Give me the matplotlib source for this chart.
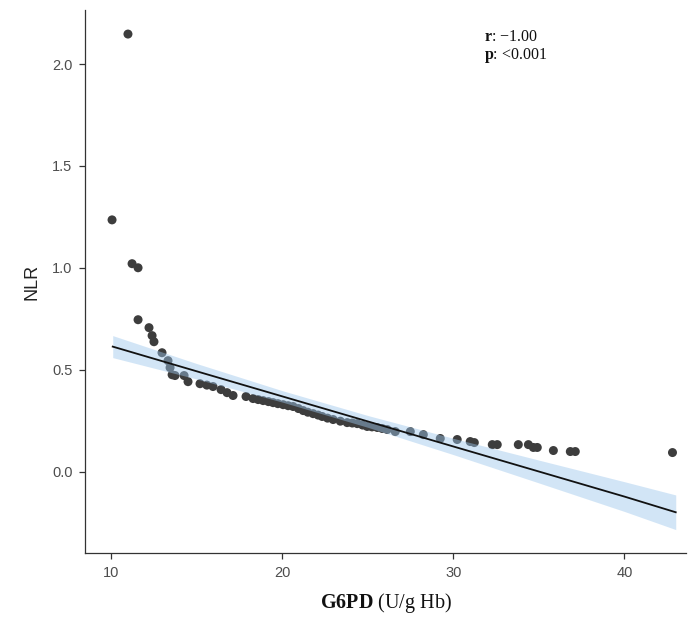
import numpy as np
import matplotlib.pyplot as plt

# puntos (G6PD vs NLR)
g6pd = [10.06, 10.99, 11.23, 11.58, 11.58, 12.22, 12.40, 12.51, 12.98, 13.33,
        13.45, 13.57, 13.74, 14.27, 14.50, 15.20, 15.60, 15.96, 16.43, 16.78,
        17.13, 17.89, 18.30, 18.60, 18.89, 19.20, 19.47, 19.75, 20.06, 20.35,
        20.64, 20.95, 21.23, 21.50, 21.81, 22.10, 22.34, 22.65, 22.98, 23.40,
        23.80, 24.10, 24.39, 24.70, 24.97, 25.25, 25.56, 25.85, 26.14, 26.61,
        27.49, 28.25, 29.24, 30.23, 30.99, 31.23, 32.28, 32.57, 33.80, 34.39,
        34.68, 34.91, 35.85, 36.84, 37.13, 42.81]
nlr = [1.235, 2.147, 1.020, 1.000, 0.745, 0.706, 0.667, 0.637, 0.583, 0.544,
       0.510, 0.475, 0.471, 0.471, 0.441, 0.431, 0.424, 0.417, 0.402, 0.387,
       0.373, 0.368, 0.358, 0.353, 0.348, 0.343, 0.338, 0.333, 0.328, 0.323,
       0.319, 0.309, 0.299, 0.291, 0.284, 0.277, 0.270, 0.262, 0.255, 0.247,
       0.240, 0.238, 0.235, 0.228, 0.221, 0.219, 0.216, 0.211, 0.206, 0.196,
       0.196, 0.181, 0.162, 0.157, 0.147, 0.142, 0.132, 0.132, 0.132, 0.132,
       0.118, 0.118, 0.103, 0.098, 0.098, 0.093]

# recta ajustada y su banda de confianza
fit_x = [10.1, 15, 20, 25, 30, 35, 40, 43]
fit_y = [0.613, 0.492, 0.369, 0.246, 0.123, 0.0, -0.123, -0.200]
fit_hw = [0.054, 0.038, 0.028, 0.029, 0.040, 0.056, 0.073, 0.085]

xticks = [10, 20, 30, 40]
yticks = [0.0, 0.5, 1.0, 1.5, 2.0]

plt.rcParams['mathtext.fontset'] = 'custom'
plt.rcParams['mathtext.rm'] = 'Liberation Serif'
plt.rcParams['mathtext.bf'] = 'Liberation Serif:bold'

fig = plt.figure(figsize=(6.9, 6.26), dpi=100)
ax = fig.add_axes([0.1232, 0.1166, 0.871, 0.8674])

ax.scatter(g6pd, nlr, s=42, color='#3d3d3d', edgecolors='none', zorder=2)

fx = np.array(fit_x)
fy = np.array(fit_y)
hw = np.array(fit_hw)
ax.fill_between(fx, fy - hw, fy + hw, color='#9cc6ec', alpha=0.45, linewidth=0, zorder=3)
ax.plot(fx, fy, color='#111111', linewidth=1.3, zorder=4)

ax.set_xlim(8.48, 43.6)
ax.set_ylim(-0.40, 2.265)
ax.set_xticks(xticks)
ax.set_yticks(yticks)
ax.set_xticklabels([str(t) for t in xticks])
ax.set_yticklabels(['%.1f' % t for t in yticks])

for s in ['top', 'right']:
    ax.spines[s].set_visible(False)
for s in ['left', 'bottom']:
    ax.spines[s].set_color('#333333')
    ax.spines[s].set_linewidth(0.9)

ax.tick_params(direction='out', length=4, width=0.9, color='#333333',
               labelcolor='#4d4d4d', labelsize=10.5, pad=5)
for lab in ax.get_xticklabels() + ax.get_yticklabels():
    lab.set_family('Liberation Sans')

ax.set_ylabel('NLR', family='Liberation Sans', fontsize=13, color='#222222', labelpad=8)
ax.set_xlabel(r'$\mathbf{G6PD}$ (U/g Hb)', family='Liberation Serif', fontsize=14.5,
              color='#111111', labelpad=8)

ax.text(0.664, 0.950, '$\\mathbf{r}$: \u22121.00', transform=ax.transAxes,
        family='Liberation Serif', fontsize=11.5, ha='left', va='center', color='#111111')
ax.text(0.664, 0.917, '$\\mathbf{p}$: <0.001', transform=ax.transAxes,
        family='Liberation Serif', fontsize=11.5, ha='left', va='center', color='#111111')

fig.savefig('out.png', dpi=100)
